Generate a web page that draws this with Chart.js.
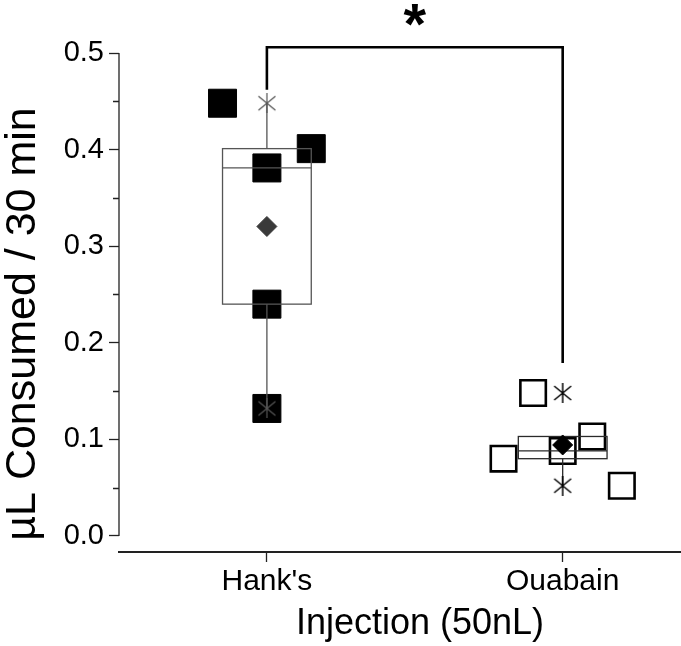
<!DOCTYPE html>
<html>
<head>
<meta charset="utf-8">
<script src="https://cdn.jsdelivr.net/npm/chart.js@4.4.1/dist/chart.umd.min.js"></script>
<style>
  html, body { margin: 0; padding: 0; background: #fff; overflow: hidden; }
</style>
</head>
<body>
<canvas id="boxChart" width="681" height="646"></canvas>
<script>
// groups and the five values read for each one
const categories = ["Hank's", 'Ouabain'];
const hanksValues = [0.448, 0.401, 0.381, 0.240, 0.132];
const ouabainValues = [0.148, 0.103, 0.088, 0.080, 0.052];
// sideways scatter of each point inside its group (category units)
const hanksJitter = [-0.15, 0.15, 0, 0, 0];
const ouabainJitter = [-0.10, 0.10, 0, -0.20, 0.20];

const yTicks = [0, 0.1, 0.2, 0.3, 0.4, 0.5];
const yMinorTicks = [0.05, 0.15, 0.25, 0.35, 0.45];

// significance bracket between the two groups
const bracketY = 0.506;
const bracketEnds = [0.462, 0.179];
const sigLabel = '*';

const xTitle = 'Injection (50nL)';
const yTitle = 'µL Consumed / 30 min';

const FONT = "'Liberation Sans', Arial, sans-serif";
const BOX_HALF = 0.15;

// Tukey hinges, 1.5 IQR whiskers
function boxStats(vals) {
  const s = [...vals].sort((a, b) => a - b);
  const n = s.length;
  const med = arr => {
    const m = Math.floor(arr.length / 2);
    return arr.length % 2 ? arr[m] : (arr[m - 1] + arr[m]) / 2;
  };
  const half = Math.ceil(n / 2);
  const q1 = med(s.slice(0, half));
  const q3 = med(s.slice(n - half));
  const iqr = q3 - q1;
  const lo = s.find(v => v >= q1 - 1.5 * iqr);
  const hi = [...s].reverse().find(v => v <= q3 + 1.5 * iqr);
  const mean = s.reduce((a, b) => a + b, 0) / n;
  return { q1, median: med(s), q3, lo, hi, min: s[0], max: s[n - 1], mean };
}

const groups = [hanksValues, ouabainValues];
const stats = groups.map(boxStats);

function asterisk(color, lw) {
  const c = document.createElement('canvas');
  c.width = 20; c.height = 20;
  const g = c.getContext('2d');
  g.strokeStyle = color;
  g.lineWidth = lw;
  g.beginPath();
  g.moveTo(10, 0); g.lineTo(10, 20);
  g.moveTo(1.5, 3); g.lineTo(18.5, 17);
  g.moveTo(18.5, 3); g.lineTo(1.5, 17);
  g.stroke();
  return c;
}
const starGray = asterisk('#555', 1.2);
const starBlack = asterisk('#000', 1.5);

const boxPlugin = {
  id: 'boxes',
  // boxes go over the squares but under the min/max and mean marks
  afterDatasetDraw(chart, args) {
    if (args.index !== 2) return;
    const { ctx, scales: { x, y } } = chart;
    const colors = ['#555', '#2a2a2a'];
    ctx.save();
    ctx.lineWidth = 1.3;
    stats.forEach((st, i) => {
      const c = i + 1;
      const cx = x.getPixelForValue(c);
      const l = x.getPixelForValue(c - BOX_HALF);
      const r = x.getPixelForValue(c + BOX_HALF);
      ctx.strokeStyle = colors[i];
      ctx.strokeRect(l, y.getPixelForValue(st.q3), r - l, y.getPixelForValue(st.q1) - y.getPixelForValue(st.q3));
      ctx.beginPath();
      ctx.moveTo(l, y.getPixelForValue(st.median));
      ctx.lineTo(r, y.getPixelForValue(st.median));
      ctx.moveTo(cx, y.getPixelForValue(st.q3));
      ctx.lineTo(cx, y.getPixelForValue(st.hi));
      ctx.moveTo(cx, y.getPixelForValue(st.q1));
      ctx.lineTo(cx, y.getPixelForValue(st.lo));
      ctx.stroke();
    });
    ctx.restore();
  },
  afterDraw(chart) {
    const { ctx, scales: { x, y } } = chart;
    const ax = x.left;
    ctx.save();
    // y axis line only spans 0 .. 0.5
    ctx.strokeStyle = '#222';
    ctx.lineWidth = 1.3;
    ctx.beginPath();
    ctx.moveTo(ax, y.getPixelForValue(0));
    ctx.lineTo(ax, y.getPixelForValue(0.5));
    yMinorTicks.forEach(v => {
      const py = Math.round(y.getPixelForValue(v)) + 0.5;
      ctx.moveTo(ax, py);
      ctx.lineTo(ax - 6, py);
    });
    ctx.stroke();

    // bracket
    ctx.strokeStyle = '#000';
    ctx.lineWidth = 2.6;
    const x1 = x.getPixelForValue(1), x2 = x.getPixelForValue(2);
    const by = y.getPixelForValue(bracketY);
    ctx.beginPath();
    ctx.moveTo(x1, y.getPixelForValue(bracketEnds[0]));
    ctx.lineTo(x1, by);
    ctx.lineTo(x2, by);
    ctx.lineTo(x2, y.getPixelForValue(bracketEnds[1]));
    ctx.stroke();

    ctx.fillStyle = '#000';
    ctx.font = 'bold 58px ' + FONT;
    ctx.textAlign = 'center';
    ctx.textBaseline = 'alphabetic';
    ctx.fillText(sigLabel, (x1 + x2) / 2, 44);

    // axis titles
    ctx.font = '36px ' + FONT;
    ctx.fillText(xTitle, 420, 634);
    ctx.translate(35, 324);
    ctx.rotate(-Math.PI / 2);
    ctx.font = '43px ' + FONT;
    ctx.fillText(yTitle, 0, 0);
    ctx.restore();
  }
};

const squareData = (vals, jit, c) => vals.map((v, i) => ({ x: c + jit[i], y: v }));

new Chart(document.getElementById('boxChart').getContext('2d'), {
  type: 'scatter',
  data: {
    datasets: [
      {
        label: 'Mean',
        data: stats.map((s, i) => ({ x: i + 1, y: s.mean })),
        pointStyle: 'rectRot',
        pointRadius: 10,
        backgroundColor: ['#3a3a3a', '#000'],
        borderColor: ['#3a3a3a', '#000'],
        borderWidth: 1
      },
      {
        label: 'Min / Max',
        data: stats.flatMap((s, i) => [{ x: i + 1, y: s.min }, { x: i + 1, y: s.max }]),
        pointStyle: [starGray, starGray, starBlack, starBlack],
        pointRadius: 10
      },
      {
        label: categories[1],
        data: squareData(ouabainValues, ouabainJitter, 2),
        pointStyle: 'rect',
        pointRadius: 18,
        backgroundColor: 'rgba(0,0,0,0)',
        borderColor: '#000',
        borderWidth: 2.6
      },
      {
        label: categories[0],
        data: squareData(hanksValues, hanksJitter, 1),
        pointStyle: 'rect',
        pointRadius: 19.8,
        backgroundColor: '#000',
        borderColor: '#000',
        borderWidth: 1
      }
    ]
  },
  options: {
    responsive: false,
    animation: false,
    layout: { autoPadding: false, padding: { top: 53, left: 0, right: 0, bottom: 0 } },
    plugins: {
      legend: { display: false },
      tooltip: { enabled: false }
    },
    scales: {
      x: {
        type: 'linear',
        min: 0.5,
        max: 2.4,
        afterFit: s => { s.height = 94; s.paddingLeft = 0; s.paddingRight = 0; },
        afterBuildTicks: s => { s.ticks = categories.map((c, i) => ({ value: i + 1 })); },
        ticks: {
          autoSkip: false,
          maxRotation: 0,
          padding: 2,
          color: '#000',
          font: { family: FONT, size: 30 },
          callback: v => categories[v - 1]
        },
        grid: { drawOnChartArea: false, drawTicks: true, tickLength: 10, tickColor: '#222', tickWidth: 1.3 },
        border: { display: true, color: '#222', width: 2 }
      },
      y: {
        min: -0.0166,
        max: 0.5,
        afterFit: s => { s.width = 119; s.paddingTop = 0; s.paddingBottom = 0; },
        afterBuildTicks: s => { s.ticks = yTicks.map(v => ({ value: v })); },
        ticks: {
          padding: 5,
          color: '#000',
          font: { family: FONT, size: 29 },
          callback: v => v.toFixed(1)
        },
        grid: { drawOnChartArea: false, drawTicks: true, tickLength: 10, tickColor: '#222', tickWidth: 1.3 },
        border: { display: false }
      }
    }
  },
  plugins: [boxPlugin]
});
</script>
</body>
</html>
